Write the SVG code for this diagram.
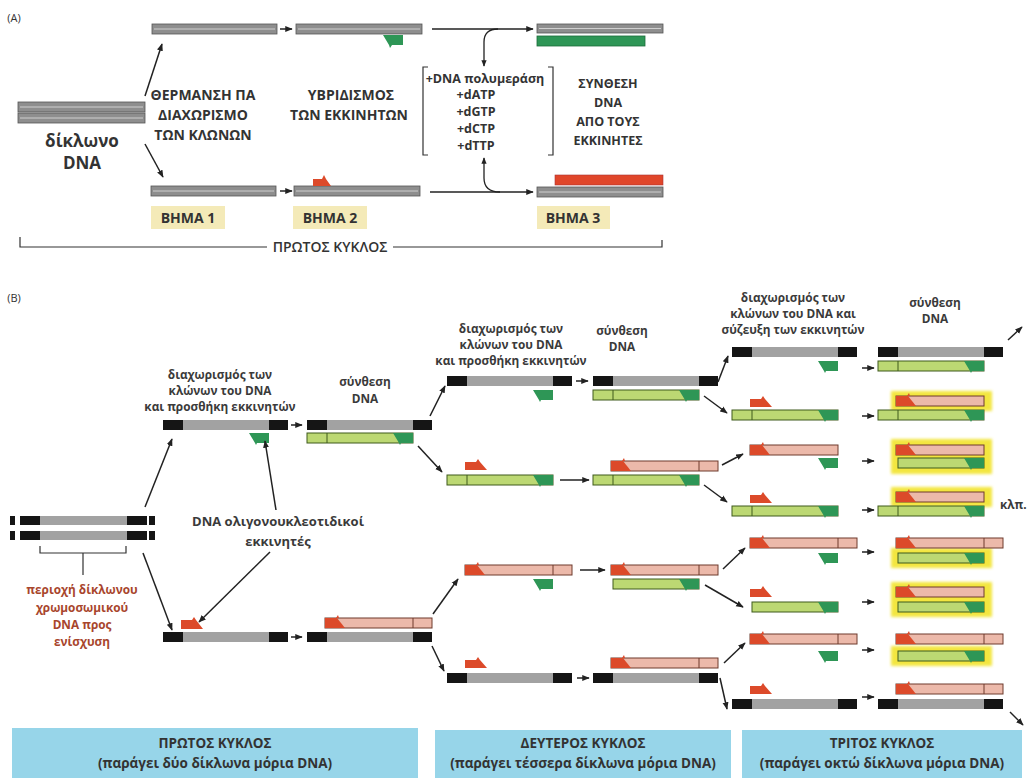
<svg xmlns="http://www.w3.org/2000/svg" width="1033" height="778" viewBox="0 0 1033 778">
<defs>
<marker id="ah" viewBox="0 0 10 10" refX="9" refY="5" markerWidth="5" markerHeight="5" orient="auto-start-reverse"><path d="M0,1 L10,5 L0,9 z" fill="#222"/></marker>
<filter id="glow" x="-10%" y="-30%" width="120%" height="160%"><feGaussianBlur stdDeviation="1.5"/></filter>
</defs>
<style>
text{font-family:"Open Sans","Noto Sans","DejaVu Sans",sans-serif;fill:#333;text-anchor:middle}
.ta{font-size:12.5px;font-weight:700}
.tc{font-size:14px;font-weight:700}
.tb{font-size:11.8px;font-weight:700;fill:#3a3a3a}
.tr{fill:#a8452c}
.tx{font-size:13.5px;font-weight:700;fill:#333}
.ag{fill:#8e8e8e;stroke:#555;stroke-width:.8}
.as{stroke:#cfcfcf;stroke-width:1}
.yb{fill:#f4eab8}
.bk{fill:#151515}
.gy{fill:#a2a2a2}
.lg{fill:#bcd873;stroke:#3f5a1c;stroke-width:1}
.pk{fill:#ecb9aa;stroke:#6e3a2c;stroke-width:1}
.rp{fill:#dc4a2a}
.gp{fill:#2e9656}
.dv{stroke:#3f5a1c;stroke-width:1}
.dp{stroke:#6e3a2c;stroke-width:1}
.hl{fill:#f3e640;filter:url(#glow)}
.ln{stroke:#222;stroke-width:1.5;fill:none;marker-end:url(#ah)}
.br{stroke:#333;stroke-width:1.2;fill:none}
.bx{fill:#97d5e9}
</style>

<!-- ============ PART A ============ -->
<text x="14" y="22" style="font-size:11px;font-weight:400">(A)</text>

<g id="a-dsdna">
<rect class="ag" x="18" y="102" width="127" height="10"/><line class="as" x1="20" y1="107" x2="143" y2="107"/>
<rect class="ag" x="18" y="113" width="127" height="10"/><line class="as" x1="20" y1="118" x2="143" y2="118"/>
<text class="ta" x="82" y="147" style="font-size:17px">δίκλωνο</text>
<text class="ta" x="82" y="169" style="font-size:17px">DNA</text>
</g>

<g id="a-step1">
<rect class="ag" x="152" y="24" width="125" height="10"/><line class="as" x1="154" y1="29" x2="275" y2="29"/>
<rect class="ag" x="151" y="186" width="125" height="10"/><line class="as" x1="153" y1="191" x2="274" y2="191"/>
<text class="tc" x="203" y="100">ΘΕΡΜΑΝΣΗ ΠΑ</text>
<text class="tc" x="203" y="120">ΔΙΑΧΩΡΙΣΜΟ</text>
<text class="tc" x="203" y="140">ΤΩΝ ΚΛΩΝΩΝ</text>
<rect class="yb" x="151" y="206" width="74" height="23"/>
<text class="tc" x="188" y="223">ΒΗΜΑ 1</text>
</g>

<g id="a-step2">
<rect class="ag" x="296" y="24" width="126" height="10"/><line class="as" x1="298" y1="29" x2="420" y2="29"/>
<polygon class="gp" points="383,35 403,35 403,45 392,45 390,48 389,45"/>
<rect class="ag" x="294" y="186" width="126" height="10"/><line class="as" x1="296" y1="191" x2="418" y2="191"/>
<polygon class="rp" points="313,186 313,179 322,179 324,175 326,179 331,186"/>
<text class="tc" x="351" y="100">ΥΒΡΙΔΙΣΜΟΣ</text>
<text class="tc" x="349" y="120">ΤΩΝ ΕΚΚΙΝΗΤΩΝ</text>
<rect class="yb" x="293" y="206" width="74" height="23"/>
<text class="tc" x="330" y="223">ΒΗΜΑ 2</text>
</g>

<g id="a-reagents">
<path class="br" d="M428,67 H423 V155 H428"/>
<path class="br" d="M548,67 H553 V155 H548"/>
<text class="ta" x="485" y="83">+DNA πολυμεράση</text>
<text class="ta" x="476" y="99">+dATP</text>
<text class="ta" x="476" y="116">+dGTP</text>
<text class="ta" x="476" y="133">+dCTP</text>
<text class="ta" x="476" y="150">+dTTP</text>
</g>

<g id="a-step3">
<rect class="ag" x="537" y="24" width="126" height="9"/><line class="as" x1="539" y1="28.5" x2="661" y2="28.5"/>
<rect x="537" y="36" width="108" height="10" fill="#2e9656" stroke="#1d6b3b" stroke-width=".8"/>
<rect x="555" y="175" width="108" height="10" fill="#e0462a" stroke="#a33" stroke-width=".6"/>
<rect class="ag" x="537" y="187" width="126" height="10"/><line class="as" x1="539" y1="192" x2="661" y2="192"/>
<text class="ta" x="608" y="88">ΣΥΝΘΕΣΗ</text>
<text class="ta" x="608" y="107">DNA</text>
<text class="ta" x="608" y="126">ΑΠΟ ΤΟΥΣ</text>
<text class="ta" x="608" y="145">ΕΚΚΙΝΗΤΕΣ</text>
<rect class="yb" x="537" y="206" width="73" height="23"/>
<text class="tc" x="573" y="223">ΒΗΜΑ 3</text>
</g>

<g id="a-cycle">
<path class="br" d="M20,237 V247 H267"/>
<path class="br" d="M393,247 H662 V240"/>
<text class="tc" x="330" y="252" style="font-weight:600">ΠΡΩΤΟΣ ΚΥΚΛΟΣ</text>
</g>

<g id="a-connectors">
<line class="ln" x1="145" y1="96" x2="162" y2="44"/>
<line class="ln" x1="145" y1="144" x2="163" y2="177"/>
<line class="ln" x1="280" y1="29" x2="292" y2="29"/>
<line class="ln" x1="280" y1="191" x2="292" y2="191"/>
<line class="ln" x1="432" y1="29" x2="533" y2="29"/>
<line class="ln" x1="430" y1="192" x2="533" y2="192"/>
<path d="M484,66 V42 Q484,29 498,29" stroke="#222" stroke-width="1.3" fill="none" marker-start="url(#ah)"/>
<path d="M484,158 V178 Q484,192 500,192" stroke="#222" stroke-width="1.3" fill="none" marker-start="url(#ah)"/>
</g>

<!-- ============ PART B ============ -->
<text x="14" y="302" style="font-size:11px;font-weight:400">(B)</text>

<g id="b-template">
<rect class="bk" x="10" y="516" width="5" height="9"/><rect class="bk" x="20" y="516" width="127" height="9"/><rect class="gy" x="40" y="516" width="87" height="9"/><rect class="bk" x="149" y="516" width="6" height="9"/>
<rect class="bk" x="10" y="531" width="5" height="9"/><rect class="bk" x="20" y="531" width="127" height="9"/><rect class="gy" x="40" y="531" width="87" height="9"/><rect class="bk" x="149" y="531" width="6" height="9"/>
<path class="br" d="M40,546 V553 H126 V546 M83,553 V575"/>
<text class="tb tr" x="82" y="594">περιοχή δίκλωνου</text>
<text class="tb tr" x="82" y="612">χρωμοσωμικού</text>
<text class="tb tr" x="82" y="629">DNA προς</text>
<text class="tb tr" x="82" y="646">ενίσχυση</text>
</g>

<g id="b-primers-label">
<text class="tb" x="278" y="526" style="font-size:13px">DNA ολιγονουκλεοτιδικοί</text>
<text class="tb" x="278" y="546" style="font-size:13px">εκκινητές</text>
</g>

<!-- cycle 1 -->
<g id="c1-sep">
<text class="tb" x="220" y="379">διαχωρισμός των</text>
<text class="tb" x="220" y="395">κλώνων του DNA</text>
<text class="tb" x="220" y="411">και προσθήκη εκκινητών</text>
<rect class="bk" x="163" y="420" width="125" height="10"/><rect class="gy" x="183" y="420" width="86" height="10"/>
<polygon class="gp" points="249,433 269,433 269,443 257,443 256,445 255,443"/>
<polygon class="rp" points="181,629 181,620 192,620 194,617 196,620 203,629"/>
<rect class="bk" x="163" y="632" width="125" height="10"/><rect class="gy" x="183" y="632" width="86" height="10"/>
</g>

<g id="c1-syn">
<text class="tb" x="365" y="386">σύνθεση</text>
<text class="tb" x="365" y="403">DNA</text>
<rect class="bk" x="307" y="420" width="125" height="10"/><rect class="gy" x="327" y="420" width="86" height="10"/>
<rect class="lg" x="307" y="433" width="106" height="10"/><line class="dv" x1="327" y1="433" x2="327" y2="443"/>
<polygon class="gp" points="393,433 413,433 413,443 401,443 400,445 399,443"/>
<rect class="pk" x="325" y="618" width="107" height="10"/><line class="dp" x1="413" y1="618" x2="413" y2="628"/>
<polygon class="rp" points="325,618 337,618 345,628 325,628"/><polygon class="rp" points="336,618 338,615 339,618"/>
<rect class="bk" x="307" y="632" width="125" height="10"/><rect class="gy" x="327" y="632" width="86" height="10"/>
</g>

<!-- cycle 2 -->
<g id="c2-sep">
<text class="tb" x="511" y="333">διαχωρισμός των</text>
<text class="tb" x="511" y="349">κλώνων του DNA</text>
<text class="tb" x="511" y="365">και προσθήκη εκκινητών</text>
<rect class="bk" x="447" y="376" width="125" height="10"/><rect class="gy" x="467" y="376" width="86" height="10"/>
<polygon class="gp" points="533,390 553,390 553,400 541,400 540,402 539,400"/>
<polygon class="rp" points="465,470 465,462 476,462 478,459 480,462 487,470"/>
<rect class="lg" x="447" y="475" width="106" height="10"/><line class="dv" x1="467" y1="475" x2="467" y2="485"/>
<polygon class="gp" points="533,475 553,475 553,485 541,485 540,487 539,485"/>
<rect class="pk" x="465" y="565" width="107" height="10"/><line class="dp" x1="553" y1="565" x2="553" y2="575"/>
<polygon class="rp" points="465,565 477,565 485,575 465,575"/><polygon class="rp" points="476,565 478,562 479,565"/>
<polygon class="gp" points="533,579 553,579 553,589 541,589 540,591 539,589"/>
<polygon class="rp" points="465,668 465,660 476,660 478,657 480,660 487,668"/>
<rect class="bk" x="447" y="673" width="125" height="10"/><rect class="gy" x="467" y="673" width="86" height="10"/>
</g>

<g id="c2-syn">
<text class="tb" x="622" y="335">σύνθεση</text>
<text class="tb" x="622" y="351">DNA</text>
<rect class="bk" x="593" y="376" width="125" height="10"/><rect class="gy" x="613" y="376" width="86" height="10"/>
<rect class="lg" x="593" y="390" width="106" height="10"/><line class="dv" x1="613" y1="390" x2="613" y2="400"/>
<polygon class="gp" points="679,390 699,390 699,400 687,400 686,402 685,400"/>
<rect class="pk" x="611" y="461" width="107" height="10"/><line class="dp" x1="699" y1="461" x2="699" y2="471"/>
<polygon class="rp" points="611,461 623,461 631,471 611,471"/><polygon class="rp" points="622,461 624,458 625,461"/>
<rect class="lg" x="593" y="475" width="106" height="10"/><line class="dv" x1="613" y1="475" x2="613" y2="485"/>
<polygon class="gp" points="679,475 699,475 699,485 687,485 686,487 685,485"/>
<rect class="pk" x="611" y="565" width="107" height="10"/><line class="dp" x1="699" y1="565" x2="699" y2="575"/>
<polygon class="rp" points="611,565 623,565 631,575 611,575"/><polygon class="rp" points="622,565 624,562 625,565"/>
<rect class="lg" x="613" y="579" width="86" height="10"/>
<polygon class="gp" points="679,579 699,579 699,589 687,589 686,591 685,589"/>
<rect class="pk" x="611" y="658" width="107" height="10"/><line class="dp" x1="699" y1="658" x2="699" y2="668"/>
<polygon class="rp" points="611,658 623,658 631,668 611,668"/><polygon class="rp" points="622,658 624,655 625,658"/>
<rect class="bk" x="593" y="673" width="125" height="10"/><rect class="gy" x="613" y="673" width="86" height="10"/>
</g>

<!-- cycle 3 -->
<g id="c3-sep">
<text class="tb" x="793" y="302">διαχωρισμός των</text>
<text class="tb" x="793" y="318">κλώνων του DNA και</text>
<text class="tb" x="793" y="334">σύζευξη των εκκινητών</text>
<rect class="bk" x="732" y="347" width="125" height="10"/><rect class="gy" x="752" y="347" width="86" height="10"/>
<polygon class="gp" points="818,361 838,361 838,371 826,371 825,373 824,371"/>
<polygon class="rp" points="750,407 750,399 761,399 763,396 765,399 772,407"/>
<rect class="lg" x="732" y="410" width="106" height="10"/><line class="dv" x1="752" y1="410" x2="752" y2="420"/>
<polygon class="gp" points="818,410 838,410 838,420 826,420 825,422 824,420"/>
<rect class="pk" x="750" y="445" width="88" height="10"/>
<polygon class="rp" points="750,445 762,445 770,455 750,455"/><polygon class="rp" points="761,445 763,442 764,445"/>
<polygon class="gp" points="818,458 838,458 838,468 826,468 825,470 824,468"/>
<polygon class="rp" points="750,503 750,495 761,495 763,492 765,495 772,503"/>
<rect class="lg" x="732" y="506" width="106" height="10"/><line class="dv" x1="752" y1="506" x2="752" y2="516"/>
<polygon class="gp" points="818,506 838,506 838,516 826,516 825,518 824,516"/>
<rect class="pk" x="750" y="538" width="107" height="10"/><line class="dp" x1="838" y1="538" x2="838" y2="548"/>
<polygon class="rp" points="750,538 762,538 770,548 750,548"/><polygon class="rp" points="761,538 763,535 764,538"/>
<polygon class="gp" points="818,553 838,553 838,563 826,563 825,565 824,563"/>
<polygon class="rp" points="750,597 750,589 761,589 763,586 765,589 772,597"/>
<rect class="lg" x="752" y="602" width="86" height="10"/>
<polygon class="gp" points="818,602 838,602 838,612 826,612 825,614 824,612"/>
<rect class="pk" x="750" y="634" width="107" height="10"/><line class="dp" x1="838" y1="634" x2="838" y2="644"/>
<polygon class="rp" points="750,634 762,634 770,644 750,644"/><polygon class="rp" points="761,634 763,631 764,634"/>
<polygon class="gp" points="818,651 838,651 838,661 826,661 825,663 824,661"/>
<polygon class="rp" points="750,694 750,686 761,686 763,683 765,686 772,694"/>
<rect class="bk" x="732" y="699" width="125" height="10"/><rect class="gy" x="752" y="699" width="86" height="10"/>
</g>

<g id="c3-syn">
<text class="tb" x="935" y="307">σύνθεση</text>
<text class="tb" x="935" y="323">DNA</text>
<rect class="hl" x="891" y="391" width="101" height="20"/>
<rect class="hl" x="891" y="439" width="101" height="35"/>
<rect class="hl" x="891" y="487" width="101" height="20"/>
<rect class="hl" x="891" y="548" width="101" height="20"/>
<rect class="hl" x="891" y="582" width="101" height="35"/>
<rect class="hl" x="891" y="646" width="101" height="20"/>
<rect class="bk" x="878" y="347" width="125" height="10"/><rect class="gy" x="898" y="347" width="86" height="10"/>
<rect class="lg" x="878" y="361" width="106" height="10"/><line class="dv" x1="898" y1="361" x2="898" y2="371"/>
<polygon class="gp" points="964,361 984,361 984,371 972,371 971,373 970,371"/>
<rect class="pk" x="896" y="396" width="88" height="10"/>
<polygon class="rp" points="896,396 908,396 916,406 896,406"/><polygon class="rp" points="907,396 909,393 910,396"/>
<rect class="lg" x="878" y="410" width="106" height="10"/><line class="dv" x1="898" y1="410" x2="898" y2="420"/>
<polygon class="gp" points="964,410 984,410 984,420 972,420 971,422 970,420"/>
<rect class="pk" x="896" y="445" width="88" height="10"/>
<polygon class="rp" points="896,445 908,445 916,455 896,455"/><polygon class="rp" points="907,445 909,442 910,445"/>
<rect class="lg" x="898" y="458" width="86" height="10"/>
<polygon class="gp" points="964,458 984,458 984,468 972,468 971,470 970,468"/>
<rect class="pk" x="896" y="492" width="88" height="10"/>
<polygon class="rp" points="896,492 908,492 916,502 896,502"/><polygon class="rp" points="907,492 909,489 910,492"/>
<rect class="lg" x="878" y="506" width="106" height="10"/><line class="dv" x1="898" y1="506" x2="898" y2="516"/>
<polygon class="gp" points="964,506 984,506 984,516 972,516 971,518 970,516"/>
<rect class="pk" x="896" y="538" width="107" height="10"/><line class="dp" x1="984" y1="538" x2="984" y2="548"/>
<polygon class="rp" points="896,538 908,538 916,548 896,548"/><polygon class="rp" points="907,538 909,535 910,538"/>
<rect class="lg" x="898" y="553" width="86" height="10"/>
<polygon class="gp" points="964,553 984,553 984,563 972,563 971,565 970,563"/>
<rect class="pk" x="896" y="587" width="88" height="10"/>
<polygon class="rp" points="896,587 908,587 916,597 896,597"/><polygon class="rp" points="907,587 909,584 910,587"/>
<rect class="lg" x="898" y="602" width="86" height="10"/>
<polygon class="gp" points="964,602 984,602 984,612 972,612 971,614 970,612"/>
<rect class="pk" x="896" y="634" width="107" height="10"/><line class="dp" x1="984" y1="634" x2="984" y2="644"/>
<polygon class="rp" points="896,634 908,634 916,644 896,644"/><polygon class="rp" points="907,634 909,631 910,634"/>
<rect class="lg" x="898" y="651" width="86" height="10"/>
<polygon class="gp" points="964,651 984,651 984,661 972,661 971,663 970,661"/>
<rect class="pk" x="896" y="684" width="107" height="10"/><line class="dp" x1="984" y1="684" x2="984" y2="694"/>
<polygon class="rp" points="896,684 908,684 916,694 896,694"/><polygon class="rp" points="907,684 909,681 910,684"/>
<rect class="bk" x="878" y="699" width="125" height="10"/><rect class="gy" x="898" y="699" width="86" height="10"/>
<text class="tb" x="1000" y="509" style="text-anchor:start">κλπ.</text>
</g>

<g id="b-connectors">
<line class="ln" x1="145" y1="507" x2="172" y2="439"/>
<line class="ln" x1="143" y1="553" x2="172" y2="630"/>
<line class="ln" x1="276" y1="510" x2="265" y2="441"/>
<line class="ln" x1="270" y1="552" x2="199" y2="622"/>
<line class="ln" x1="291" y1="425" x2="302" y2="425"/>
<line class="ln" x1="291" y1="637" x2="302" y2="637"/>
<line class="ln" x1="430" y1="416" x2="445" y2="386"/>
<line class="ln" x1="418" y1="446" x2="442" y2="472"/>
<line class="ln" x1="433" y1="614" x2="458" y2="579"/>
<line class="ln" x1="432" y1="646" x2="444" y2="671"/>
<line class="ln" x1="576" y1="381" x2="588" y2="381"/>
<line class="ln" x1="560" y1="480" x2="589" y2="480"/>
<line class="ln" x1="580" y1="570" x2="605" y2="570"/>
<line class="ln" x1="577" y1="678" x2="589" y2="678"/>
<line class="ln" x1="718" y1="382" x2="728" y2="356"/>
<line class="ln" x1="704" y1="396" x2="727" y2="413"/>
<line class="ln" x1="722" y1="465" x2="743" y2="454"/>
<line class="ln" x1="704" y1="485" x2="727" y2="502"/>
<line class="ln" x1="723" y1="569" x2="745" y2="548"/>
<line class="ln" x1="705" y1="585" x2="743" y2="607"/>
<line class="ln" x1="724" y1="663" x2="745" y2="643"/>
<line class="ln" x1="720" y1="678" x2="727" y2="709"/>
<line class="ln" x1="862" y1="368" x2="874" y2="368"/>
<line class="ln" x1="862" y1="416" x2="874" y2="416"/>
<line class="ln" x1="862" y1="461" x2="874" y2="461"/>
<line class="ln" x1="862" y1="510" x2="874" y2="510"/>
<line class="ln" x1="862" y1="552" x2="874" y2="552"/>
<line class="ln" x1="862" y1="602" x2="874" y2="602"/>
<line class="ln" x1="862" y1="650" x2="874" y2="650"/>
<line class="ln" x1="862" y1="697" x2="874" y2="697"/>
<line class="ln" x1="1008" y1="340" x2="1022" y2="327"/>
<line class="ln" x1="1010" y1="712" x2="1023" y2="725"/>
</g>

<g id="cycles">
<rect class="bx" x="12" y="728" width="406" height="50"/>
<text class="tx" x="215" y="748">ΠΡΩΤΟΣ ΚΥΚΛΟΣ</text>
<text class="tx" x="215" y="768">(παράγει δύο δίκλωνα μόρια DNA)</text>
<rect class="bx" x="435" y="730" width="296" height="48"/>
<text class="tx" x="583" y="748">ΔΕΥΤΕΡΟΣ ΚΥΚΛΟΣ</text>
<text class="tx" x="583" y="768">(παράγει τέσσερα δίκλωνα μόρια DNA)</text>
<rect class="bx" x="742" y="730" width="280" height="48"/>
<text class="tx" x="882" y="748">ΤΡΙΤΟΣ ΚΥΚΛΟΣ</text>
<text class="tx" x="882" y="768">(παράγει οκτώ δίκλωνα μόρια DNA)</text>
</g>
</svg>
